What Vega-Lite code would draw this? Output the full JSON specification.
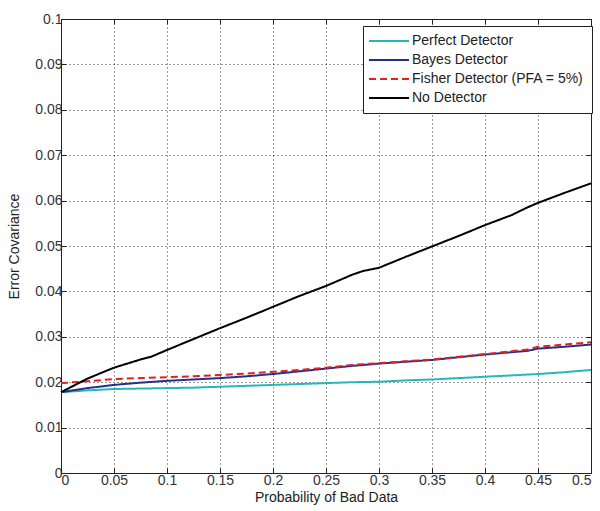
{
  "$schema": "https://vega.github.io/schema/vega-lite/v6.json",
  "width": 530,
  "height": 454,
  "autosize": {"type": "none"},
  "padding": {"left": 61, "top": 19, "right": 9, "bottom": 38},
  "background": "white",
  "config": {
    "font": "Liberation Sans",
    "view": {"stroke": "black", "strokeWidth": 1},
    "axis": {
      "labelFont": "Liberation Sans",
      "titleFont": "Liberation Sans",
      "labelFontSize": 14,
      "titleFontSize": 14,
      "titleFontWeight": "normal",
      "labelColor": "#333",
      "titleColor": "#222",
      "domainColor": "#222",
      "tickColor": "#222",
      "tickSize": -5,
      "gridColor": "#000",
      "gridDash": [1, 3],
      "gridOpacity": 0.8
    },
    "legend": {"labelFont": "Liberation Sans"}
  },
  "datasets": {
    "d": [
      {"p": 0, "s": "Perfect Detector", "v": 0.0178},
      {"p": 0.025, "s": "Perfect Detector", "v": 0.0182},
      {"p": 0.05, "s": "Perfect Detector", "v": 0.0185},
      {"p": 0.075, "s": "Perfect Detector", "v": 0.0186},
      {"p": 0.1, "s": "Perfect Detector", "v": 0.0187},
      {"p": 0.125, "s": "Perfect Detector", "v": 0.0188},
      {"p": 0.15, "s": "Perfect Detector", "v": 0.019},
      {"p": 0.175, "s": "Perfect Detector", "v": 0.0192},
      {"p": 0.2, "s": "Perfect Detector", "v": 0.0194},
      {"p": 0.225, "s": "Perfect Detector", "v": 0.0196},
      {"p": 0.25, "s": "Perfect Detector", "v": 0.0198},
      {"p": 0.275, "s": "Perfect Detector", "v": 0.02},
      {"p": 0.3, "s": "Perfect Detector", "v": 0.0201},
      {"p": 0.325, "s": "Perfect Detector", "v": 0.0204},
      {"p": 0.35, "s": "Perfect Detector", "v": 0.0206},
      {"p": 0.375, "s": "Perfect Detector", "v": 0.0209},
      {"p": 0.4, "s": "Perfect Detector", "v": 0.0212},
      {"p": 0.425, "s": "Perfect Detector", "v": 0.0215},
      {"p": 0.45, "s": "Perfect Detector", "v": 0.0218},
      {"p": 0.475, "s": "Perfect Detector", "v": 0.0222},
      {"p": 0.5, "s": "Perfect Detector", "v": 0.0227},

      {"p": 0, "s": "Bayes Detector", "v": 0.0178},
      {"p": 0.025, "s": "Bayes Detector", "v": 0.0187},
      {"p": 0.05, "s": "Bayes Detector", "v": 0.0194},
      {"p": 0.075, "s": "Bayes Detector", "v": 0.0199},
      {"p": 0.1, "s": "Bayes Detector", "v": 0.0203},
      {"p": 0.125, "s": "Bayes Detector", "v": 0.0206},
      {"p": 0.15, "s": "Bayes Detector", "v": 0.0209},
      {"p": 0.175, "s": "Bayes Detector", "v": 0.0213},
      {"p": 0.2, "s": "Bayes Detector", "v": 0.0218},
      {"p": 0.225, "s": "Bayes Detector", "v": 0.0224},
      {"p": 0.25, "s": "Bayes Detector", "v": 0.023},
      {"p": 0.275, "s": "Bayes Detector", "v": 0.0236},
      {"p": 0.3, "s": "Bayes Detector", "v": 0.0241},
      {"p": 0.325, "s": "Bayes Detector", "v": 0.0245},
      {"p": 0.35, "s": "Bayes Detector", "v": 0.0249},
      {"p": 0.375, "s": "Bayes Detector", "v": 0.0255},
      {"p": 0.4, "s": "Bayes Detector", "v": 0.0261},
      {"p": 0.425, "s": "Bayes Detector", "v": 0.0266},
      {"p": 0.44, "s": "Bayes Detector", "v": 0.0269},
      {"p": 0.45, "s": "Bayes Detector", "v": 0.0274},
      {"p": 0.475, "s": "Bayes Detector", "v": 0.0278},
      {"p": 0.5, "s": "Bayes Detector", "v": 0.0283},

      {"p": 0, "s": "Fisher Detector (PFA = 5%)", "v": 0.0198},
      {"p": 0.025, "s": "Fisher Detector (PFA = 5%)", "v": 0.0202},
      {"p": 0.05, "s": "Fisher Detector (PFA = 5%)", "v": 0.0207},
      {"p": 0.075, "s": "Fisher Detector (PFA = 5%)", "v": 0.0209},
      {"p": 0.1, "s": "Fisher Detector (PFA = 5%)", "v": 0.0211},
      {"p": 0.125, "s": "Fisher Detector (PFA = 5%)", "v": 0.0213},
      {"p": 0.15, "s": "Fisher Detector (PFA = 5%)", "v": 0.0216},
      {"p": 0.175, "s": "Fisher Detector (PFA = 5%)", "v": 0.0219},
      {"p": 0.2, "s": "Fisher Detector (PFA = 5%)", "v": 0.0223},
      {"p": 0.225, "s": "Fisher Detector (PFA = 5%)", "v": 0.0227},
      {"p": 0.25, "s": "Fisher Detector (PFA = 5%)", "v": 0.0232},
      {"p": 0.275, "s": "Fisher Detector (PFA = 5%)", "v": 0.0238},
      {"p": 0.3, "s": "Fisher Detector (PFA = 5%)", "v": 0.0242},
      {"p": 0.325, "s": "Fisher Detector (PFA = 5%)", "v": 0.0246},
      {"p": 0.35, "s": "Fisher Detector (PFA = 5%)", "v": 0.025},
      {"p": 0.375, "s": "Fisher Detector (PFA = 5%)", "v": 0.0256},
      {"p": 0.4, "s": "Fisher Detector (PFA = 5%)", "v": 0.0262},
      {"p": 0.425, "s": "Fisher Detector (PFA = 5%)", "v": 0.0268},
      {"p": 0.44, "s": "Fisher Detector (PFA = 5%)", "v": 0.0272},
      {"p": 0.45, "s": "Fisher Detector (PFA = 5%)", "v": 0.0278},
      {"p": 0.475, "s": "Fisher Detector (PFA = 5%)", "v": 0.0283},
      {"p": 0.5, "s": "Fisher Detector (PFA = 5%)", "v": 0.0288},

      {"p": 0, "s": "No Detector", "v": 0.0178},
      {"p": 0.025, "s": "No Detector", "v": 0.0208},
      {"p": 0.05, "s": "No Detector", "v": 0.0232},
      {"p": 0.075, "s": "No Detector", "v": 0.025},
      {"p": 0.085, "s": "No Detector", "v": 0.0256},
      {"p": 0.1, "s": "No Detector", "v": 0.0271},
      {"p": 0.125, "s": "No Detector", "v": 0.0295},
      {"p": 0.15, "s": "No Detector", "v": 0.0319},
      {"p": 0.175, "s": "No Detector", "v": 0.0342},
      {"p": 0.2, "s": "No Detector", "v": 0.0366},
      {"p": 0.225, "s": "No Detector", "v": 0.039},
      {"p": 0.25, "s": "No Detector", "v": 0.0412},
      {"p": 0.275, "s": "No Detector", "v": 0.0437},
      {"p": 0.285, "s": "No Detector", "v": 0.0445},
      {"p": 0.3, "s": "No Detector", "v": 0.0452},
      {"p": 0.325, "s": "No Detector", "v": 0.0476},
      {"p": 0.35, "s": "No Detector", "v": 0.0499},
      {"p": 0.375, "s": "No Detector", "v": 0.0522},
      {"p": 0.4, "s": "No Detector", "v": 0.0546},
      {"p": 0.425, "s": "No Detector", "v": 0.0568},
      {"p": 0.44, "s": "No Detector", "v": 0.0585},
      {"p": 0.45, "s": "No Detector", "v": 0.0595},
      {"p": 0.475, "s": "No Detector", "v": 0.0617},
      {"p": 0.5, "s": "No Detector", "v": 0.0638}
    ]
  },
  "data": {"name": "d"},
  "layer": [
    {
      "mark": {"type": "line", "strokeWidth": 2, "opacity": 0},
      "encoding": {
        "x": {
          "field": "p", "type": "quantitative",
          "scale": {"domain": [0, 0.5], "nice": false},
          "axis": {"orient": "top", "labels": false, "grid": false, "title": null,
                   "values": [0, 0.05, 0.1, 0.15, 0.2, 0.25, 0.3, 0.35, 0.4, 0.45, 0.5]}
        },
        "y": {
          "field": "v", "type": "quantitative",
          "scale": {"domain": [0, 0.1], "nice": false},
          "axis": {"orient": "right", "labels": false, "grid": false, "title": null,
                   "values": [0, 0.01, 0.02, 0.03, 0.04, 0.05, 0.06, 0.07, 0.08, 0.09, 0.1]}
        },
        "detail": {"field": "s"}
      }
    },
    {
      "mark": {"type": "line", "strokeWidth": 2},
      "encoding": {
        "x": {
          "field": "p", "type": "quantitative",
          "scale": {"domain": [0, 0.5], "nice": false},
          "axis": {"orient": "bottom", "title": "Probability of Bad Data", "format": "~g", "grid": true,
                   "values": [0, 0.05, 0.1, 0.15, 0.2, 0.25, 0.3, 0.35, 0.4, 0.45, 0.5],
                   "labelPadding": 5, "titlePadding": 3}
        },
        "y": {
          "field": "v", "type": "quantitative",
          "scale": {"domain": [0, 0.1], "nice": false},
          "axis": {"orient": "left", "title": "Error Covariance", "format": "~g", "grid": true,
                   "values": [0, 0.01, 0.02, 0.03, 0.04, 0.05, 0.06, 0.07, 0.08, 0.09, 0.1],
                   "labelPadding": 4, "titlePadding": 13}
        },
        "color": {
          "field": "s", "type": "nominal", "title": null,
          "scale": {
            "domain": ["Perfect Detector", "Bayes Detector", "Fisher Detector (PFA = 5%)", "No Detector"],
            "range": ["#26b8b8", "#24308a", "#e3201c", "#000000"]
          },
          "legend": {
            "orient": "none", "legendX": 302, "legendY": 7,
            "symbolType": "M-9,0H1", "symbolSize": 64, "symbolStrokeWidth": 2,
            "symbolOffset": 27,
            "labelFontSize": 14, "labelColor": "#222", "labelLimit": 300,
            "strokeColor": "#222", "fillColor": "white", "padding": 8,
            "rowPadding": 5, "labelOffset": 0
          }
        },
        "strokeDash": {
          "field": "s", "type": "nominal", "title": null,
          "scale": {
            "domain": ["Perfect Detector", "Bayes Detector", "Fisher Detector (PFA = 5%)", "No Detector"],
            "range": [[1, 0], [1, 0], [7, 4], [1, 0]]
          }
        }
      }
    }
  ],
  "resolve": {"axis": {"x": "independent", "y": "independent"}}
}
